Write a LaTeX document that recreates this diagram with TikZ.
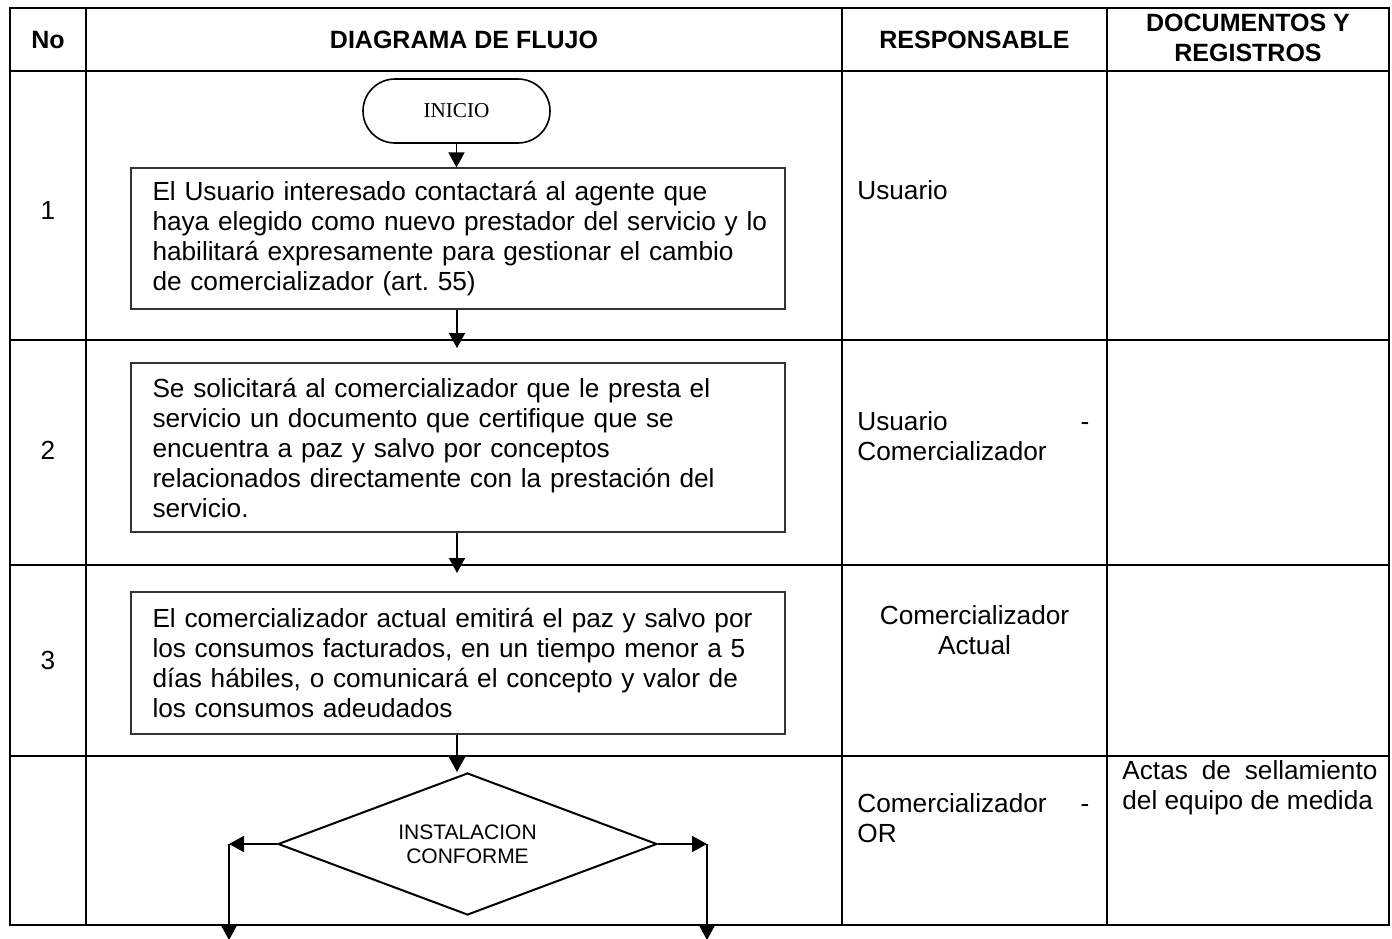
\documentclass[tikz,border=0pt]{standalone}
\usepackage{fontspec}
\setmainfont{Liberation Sans}
\newfontfamily\inicioFont{Liberation Serif}
\usetikzlibrary{shapes.geometric,arrows.meta}
\newcommand\jl[2]{\makebox[#1][s]{#2}}
\frenchspacing
\begin{document}
\begin{tikzpicture}[x=0.5pt,y=-0.5pt,
  tbl/.style={line width=1.1pt},
  hdr/.style={font=\fontsize{12.5}{15}\selectfont\bfseries, align=center, inner sep=0pt},
  body/.style={font=\fontsize{13.1}{15}\selectfont, inner sep=0pt},
  procbox/.style={draw=black!80, line width=0.6pt, minimum width=327pt, inner sep=0pt,
    text width=305.5pt, align=left, font=\fontsize{13.1}{15}\selectfont},
  flow/.style={line width=0.8pt, -{Triangle[length=7.5pt,width=8pt]}},
  startbox/.style={draw, line width=0.8pt, rounded corners=16pt, minimum width=93.5pt,
    minimum height=32pt, inner sep=0pt, font=\inicioFont\fontsize{10.6}{12}\selectfont},
  decision/.style={draw, line width=1pt, diamond, aspect=2.67, inner sep=0pt,
    minimum width=189.5pt, minimum height=71pt, align=center,
    font=\fontsize{10.5}{12}\selectfont}
]
\useasboundingbox (0,0) rectangle (1392,938);
% table
\draw[tbl] (10,8) rectangle (1389,925);
\foreach \yy in {71,340,565,756} \draw[tbl] (10,\yy) -- (1389,\yy);
\foreach \xx in {86,842,1107} \draw[tbl] (\xx,8) -- (\xx,925);
% headers
\node[hdr] (hno) at (48,40) {No};
\node[hdr] (hdf) at (464,40) {DIAGRAMA DE FLUJO};
\node[hdr] (hre) at (974.5,40) {RESPONSABLE};
\node[hdr] (hdo) at (1248,38) {DOCUMENTOS Y\\REGISTROS};
% numbers
\node[body] (n1) at (48,210) {1};
\node[body] (n2) at (48,450) {2};
\node[body] (n3) at (48,660) {3};
% flow
\node[startbox] (ini) at (456.5,111) {INICIO};
\node[procbox, minimum height=70.5pt] (b1) at (458,238.5)
 {\jl{305.5pt}{El Usuario interesado contactará al agente que}\\
  \jl{305.5pt}{haya elegido como nuevo prestador del servicio y lo}\\
  \jl{305.5pt}{habilitará expresamente para gestionar el cambio}\\
  de comercializador (art. 55)};
\coordinate (t1) at (457,348);
\node[procbox, minimum height=84.5pt] (b2) at (458,447.5)
 {\jl{305.5pt}{Se solicitará al comercializador que le presta el}\\
  \jl{305.5pt}{servicio un documento que certifique que se}\\
  \jl{305.5pt}{encuentra a paz y salvo por conceptos}\\
  \jl{305.5pt}{relacionados directamente con la prestación del}\\
  servicio.};
\coordinate (t2) at (457,573);
\node[procbox, minimum height=71pt] (b3) at (458,663)
 {\jl{305.5pt}{El comercializador actual emitirá el paz y salvo por}\\
  \jl{305.5pt}{los consumos facturados, en un tiempo menor a 5}\\
  \jl{305.5pt}{días hábiles, o comunicará el concepto y valor de}\\
  los consumos adeudados};
\node[decision] (dia) at (467.5,844) {INSTALACION\\CONFORME};
\coordinate (L) at (229,844);
\coordinate (Lb) at (229,940);
\coordinate (R) at (707,844);
\coordinate (Rb) at (707,940);
\draw[flow] (ini.south) -- (ini.south |- b1.north);
\draw[flow] (b1.south -| t1) -- (t1);
\draw[flow] (b2.south -| t2) -- (t2);
\draw[flow] (b3.south -| t1) -- (t1 |- dia.north);
\draw[flow] (dia.west) -- (L);
\draw[flow] (L) -- (Lb);
\draw[flow] (dia.east) -- (R);
\draw[flow] (R) -- (Rb);
% responsables
\node[body, anchor=west] (r1) at (857,190) {Usuario};
\node[body, anchor=west, align=left] (r2) at (857,436)
 {\jl{116pt}{Usuario -}\\Comercializador};
\node[body, align=center] (r3) at (974.5,630) {Comercializador\\Actual};
\node[body, anchor=west, align=left] (r4) at (857,818)
 {\jl{116pt}{Comercializador -}\\OR};
% documentos
\node[body, anchor=west, align=left] (d4) at (1122,787.5)
 {\jl{127.5pt}{Actas de sellamiento}\\del equipo de medida};
\end{tikzpicture}
\end{document}
